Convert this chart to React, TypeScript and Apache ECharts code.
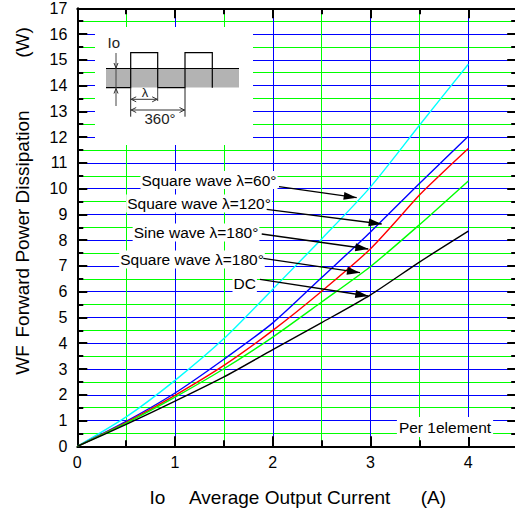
import React, { useEffect, useRef } from 'react';
import * as echarts from 'echarts';

// ---- data ----
const currents = [0, 0.5, 1, 1.5, 2, 2.5, 3, 3.5, 4];
const squareWave60 = [0, 1.14, 2.56, 4.18, 6.1, 8.05, 10.07, 12.46, 14.83];
const squareWave120 = [0, 0.97, 2.07, 3.38, 4.79, 6.55, 8.32, 10.2, 12.03];
const sineCurrents = [0, 0.5, 1, 1.5, 2, 2.5, 3, 3.5, 3.62, 4];
const sineWave180 = [0, 0.93, 1.98, 3.14, 4.5, 6.02, 7.67, 9.75, 10.2, 11.56];
const squareWave180 = [0, 0.9, 1.91, 3.01, 4.24, 5.6, 6.98, 8.6, 10.3];
const dcCurve = [0, 0.85, 1.75, 2.69, 3.75, 4.8, 5.88, 7.15, 8.35];

const seriesNames = ['Square wave λ=60°', 'Square wave λ=120°', 'Sine wave λ=180°', 'Square wave λ=180°', 'DC'];
const seriesColors = ['#00ffff', '#0000ff', '#ff0000', '#00ff00', '#000000'];

const xTitleParts = ['Io', 'Average Output Current', '(A)'];
const yTitleParts = ['WF', 'Forward Power Dissipation', '(W)'];
const noteText = 'Per 1element';

const FONT = "'Liberation Sans', Arial, sans-serif";

function pairs(xs: number[], ys: number[]) {
  return xs.map((x, i) => [x, ys[i]]);
}

function arrowHead(from: number[], to: number[], len: number, half: number) {
  const dx = to[0] - from[0];
  const dy = to[1] - from[1];
  const d = Math.sqrt(dx * dx + dy * dy);
  const ux = dx / d, uy = dy / d;
  const bx = to[0] - ux * len, by = to[1] - uy * len;
  return [
    [to[0], to[1]],
    [bx - uy * half, by + ux * half],
    [bx + uy * half, by - ux * half],
  ];
}

function openArrow(tip: number[], dir: number[], len: number, half: number) {
  const bx = tip[0] - dir[0] * len, by = tip[1] - dir[1] * len;
  return [
    [bx - dir[1] * half, by + dir[0] * half],
    [tip[0], tip[1]],
    [bx + dir[1] * half, by - dir[0] * half],
  ];
}

export default function App() {
  const ref = useRef<HTMLDivElement>(null);

  useEffect(() => {
    if (!ref.current) return;
    const chart = echarts.init(ref.current, null, { renderer: 'svg' });

    const seriesData = [
      pairs(currents, squareWave60),
      pairs(currents, squareWave120),
      pairs(sineCurrents, sineWave180),
      pairs(currents, squareWave180),
      pairs(currents, dcCurve),
    ];

    const annotations = [
      { cx: 209, cy: 180, from: [279, 186.7], to: [356.7, 197.7] },
      { cx: 199, cy: 203.5, from: [266.7, 209.3], to: [381.7, 224] },
      { cx: 196, cy: 232.5, from: [261.7, 234], to: [368.3, 249] },
      { cx: 192, cy: 259.5, from: [263.3, 258.3], to: [360, 272.7] },
      { cx: 244.7, cy: 283, from: [260, 279.3], to: [368.3, 296] },
    ];

    const graphics: any[] = [];
    annotations.forEach((a, i) => {
      graphics.push({
        type: 'text', z: 100, x: a.cx, y: a.cy,
        style: {
          text: seriesNames[i], font: `15.5px ${FONT}`, fill: '#000',
          align: 'center', verticalAlign: 'middle',
          backgroundColor: '#fff', padding: [1, 1, 1, 1],
        },
      });
      graphics.push({
        type: 'line', z: 100,
        shape: { x1: a.from[0], y1: a.from[1], x2: a.to[0], y2: a.to[1] },
        style: { stroke: '#000', lineWidth: 1.3 },
      });
      graphics.push({
        type: 'polygon', z: 101,
        shape: { points: arrowHead(a.from, a.to, 13, 4) },
        style: { fill: '#000' },
      });
    });

    graphics.push({
      type: 'text', z: 100, x: 445, y: 427,
      style: {
        text: noteText, font: `15.5px ${FONT}`, fill: '#000',
        align: 'center', verticalAlign: 'middle',
        backgroundColor: '#fff', padding: [2, 2, 2, 2],
      },
    });

    // Inset waveform diagram
    const lowY = 87.7, highY = 52.7;
    const e1 = 130.7, e2 = 157.7, e3 = 185, e4 = 212.3;
    graphics.push(
      { type: 'rect', z: 90, shape: { x: 95, y: 27, width: 158, height: 118 }, style: { fill: '#fff' } },
      { type: 'rect', z: 91, shape: { x: 106, y: 68.5, width: 133, height: 19 }, style: { fill: '#b3b3b3' } },
      { type: 'line', z: 92, shape: { x1: 106, y1: 68.5, x2: 239, y2: 68.5 }, style: { stroke: '#000', lineWidth: 1 } },
      {
        type: 'polyline', z: 92,
        shape: { points: [[106, lowY], [e1, lowY], [e1, highY], [e2, highY], [e2, lowY], [e3, lowY], [e3, highY], [e4, highY], [e4, lowY]] },
        style: { stroke: '#000', lineWidth: 1.2, fill: 'none' },
      },
      { type: 'line', z: 92, shape: { x1: e1, y1: lowY, x2: e1, y2: 116.7 }, style: { stroke: '#222', lineWidth: 1 } },
      { type: 'line', z: 92, shape: { x1: e2, y1: lowY, x2: e2, y2: 101 }, style: { stroke: '#444', lineWidth: 1 } },
      { type: 'line', z: 92, shape: { x1: e3, y1: lowY, x2: e3, y2: 116.7 }, style: { stroke: '#222', lineWidth: 1 } },
      { type: 'line', z: 92, shape: { x1: e1, y1: 99.3, x2: e2, y2: 99.3 }, style: { stroke: '#333', lineWidth: 1 } },
      { type: 'polyline', z: 92, shape: { points: openArrow([e1 + 0.5, 99.3], [-1, 0], 5, 2.5) }, style: { stroke: '#333', lineWidth: 1, fill: 'none' } },
      { type: 'polyline', z: 92, shape: { points: openArrow([e2 - 0.5, 99.3], [1, 0], 5, 2.5) }, style: { stroke: '#333', lineWidth: 1, fill: 'none' } },
      { type: 'text', z: 92, x: 145, y: 92, style: { text: 'λ', font: `13px ${FONT}`, fill: '#222', align: 'center', verticalAlign: 'middle' } },
      { type: 'line', z: 92, shape: { x1: e1, y1: 110, x2: e3, y2: 110 }, style: { stroke: '#333', lineWidth: 1 } },
      { type: 'polyline', z: 92, shape: { points: openArrow([e1 + 0.5, 110], [-1, 0], 5, 2.5) }, style: { stroke: '#333', lineWidth: 1, fill: 'none' } },
      { type: 'polyline', z: 92, shape: { points: openArrow([e3 - 0.5, 110], [1, 0], 5, 2.5) }, style: { stroke: '#333', lineWidth: 1, fill: 'none' } },
      { type: 'text', z: 92, x: 160, y: 118.5, style: { text: '360°', font: `15px ${FONT}`, fill: '#222', align: 'center', verticalAlign: 'middle' } },
      { type: 'line', z: 92, shape: { x1: 116, y1: 53, x2: 116, y2: 106 }, style: { stroke: '#444', lineWidth: 1 } },
      { type: 'polyline', z: 92, shape: { points: openArrow([116, 68], [0, 1], 5, 2) }, style: { stroke: '#333', lineWidth: 1, fill: 'none' } },
      { type: 'polyline', z: 92, shape: { points: openArrow([116, 88.5], [0, -1], 5, 2) }, style: { stroke: '#333', lineWidth: 1, fill: 'none' } },
      { type: 'text', z: 92, x: 113.8, y: 42, style: { text: 'Io', font: `15px ${FONT}`, fill: '#222', align: 'center', verticalAlign: 'middle' } },
    );

    const xTitleCenters = [157.3, 289.7, 433.3];
    xTitleParts.forEach((t, i) => {
      graphics.push({
        type: 'text', z: 100, x: xTitleCenters[i], y: 497.3,
        style: { text: t, font: `19px ${FONT}`, fill: '#000', align: 'center', verticalAlign: 'middle' },
      });
    });
    const yTitleCenters = [360, 224, 42.5];
    yTitleParts.forEach((t, i) => {
      graphics.push({
        type: 'text', z: 100, x: 22.7, y: yTitleCenters[i], rotation: Math.PI / 2,
        style: { text: t, font: `19px ${FONT}`, fill: '#000', align: 'center', verticalAlign: 'middle' },
      });
    });

    const tickStyle = { color: '#000', width: 2 };
    const minorX = (position: string, labels: boolean, split: boolean) => ({
      type: 'value', min: 0, max: 4.5, interval: 0.5, position,
      axisLine: { show: true, onZero: false, lineStyle: { color: '#000', width: 2 } },
      axisTick: { show: true, inside: true, length: 6, lineStyle: tickStyle },
      axisLabel: labels
        ? {
            show: true, fontSize: 16, color: '#000', fontFamily: FONT, margin: 8,
            formatter: (v: number) => (Math.abs(v - Math.round(v)) < 1e-9 && v < 4.25 ? String(Math.round(v)) : ''),
          }
        : { show: false },
      splitLine: split ? { show: true, lineStyle: { color: '#00ff00', width: 1 } } : { show: false },
    });
    const majorX = (position: string, split: boolean) => ({
      type: 'value', min: 0, max: 4.5, interval: 1, position,
      axisLine: { show: false, onZero: false },
      axisTick: { show: true, inside: true, length: 10, lineStyle: tickStyle },
      axisLabel: { show: false },
      splitLine: split ? { show: true, lineStyle: { color: '#0000ff', width: 1 } } : { show: false },
    });
    const yAx = (position: string, labels: boolean, split: boolean) => ({
      type: 'value', min: 0, max: 17, interval: 1, position,
      axisLine: { show: true, onZero: false, lineStyle: { color: '#000', width: 2 } },
      axisTick: { show: true, inside: true, length: 10, lineStyle: tickStyle },
      minorTick: { show: true, splitNumber: 2, length: 6, lineStyle: { color: '#000', width: 2 } },
      axisLabel: labels ? { show: true, fontSize: 16, color: '#000', fontFamily: FONT, margin: 10 } : { show: false },
      splitLine: split ? { show: true, lineStyle: { color: '#0000ff', width: 1 } } : { show: false },
      minorSplitLine: split ? { show: true, lineStyle: { color: '#00ff00', width: 1 } } : { show: false },
    });

    chart.setOption({
      animation: false,
      backgroundColor: '#fff',
      grid: { left: 77.3, top: 8.3, width: 439.9, height: 438, containLabel: false, outerBoundsMode: 'none' },
      xAxis: [minorX('bottom', true, true), minorX('top', false, false), majorX('bottom', true), majorX('top', false)],
      yAxis: [yAx('left', true, true), yAx('right', false, false)],
      series: seriesData.map((d, i) => ({
        type: 'line', name: seriesNames[i], data: d, xAxisIndex: 0, yAxisIndex: 0,
        showSymbol: false, symbol: 'none', smooth: 0.25,
        lineStyle: { color: seriesColors[i], width: 1.4 },
        z: 5,
      })),
      graphic: graphics,
    });

    return () => chart.dispose();
  }, []);

  return <div ref={ref} style={{ position: 'absolute', left: 0, top: 0, width: 515, height: 510 }} />;
}
